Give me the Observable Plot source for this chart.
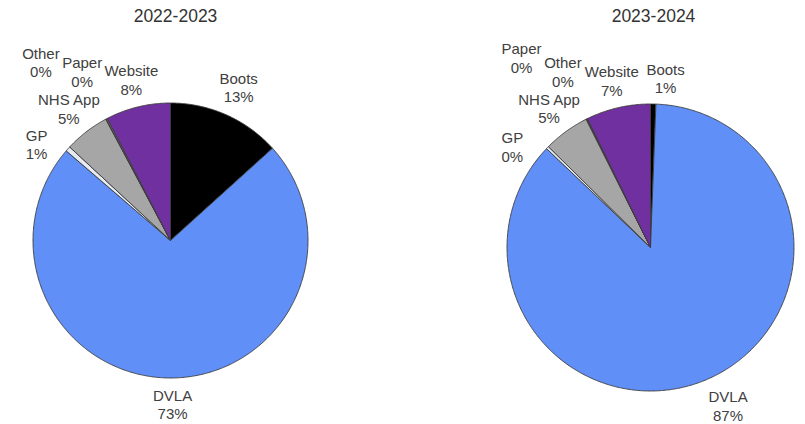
<!DOCTYPE html>
<html>
<head>
<meta charset="utf-8">
<script src="https://cdn.jsdelivr.net/npm/d3@7"></script>
<script src="https://cdn.jsdelivr.net/npm/@observablehq/plot@0.6"></script>
<style>
  html, body { margin: 0; padding: 0; background: #ffffff; }
  #chart { width: 805px; height: 424px; }
</style>
</head>
<body>
<div id="chart"></div>
<script>
// ---- data ----
const categories = ["Boots", "DVLA", "GP", "NHS App", "Other", "Paper", "Website"];
const years = ["2022-2023", "2023-2024"];
const share2022 = [13.3, 73.0, 0.6, 5.3, 0.05, 0.15, 7.6];
const share2023 = [0.6, 86.5, 0.3, 5.2, 0.1, 0.05, 7.25];
const sliceColors = ["#000000", "#5f8ff7", "#e6eaf2", "#a6a6a6", "#595959", "#808080", "#7030a0"];

// ---- layout (pixel space) ----
const W = 805, H = 424;
const FONT = "'Liberation Sans', Arial, sans-serif";
const LABEL_SIZE = 15, LH = 18.5, HH = 8, GAP = 8.5, MAX_TURN = 8;
const pies = [
  { year: years[0], values: share2022, cx: 170, cy: 240, r: 137.5, tx: 175, ty: 16 },
  { year: years[1], values: share2023, cx: 650, cy: 247, r: 143.5, tx: 653, ty: 16 }
];

const ctx = document.createElement("canvas").getContext("2d");
ctx.font = `${LABEL_SIZE}px ${FONT}`;
const measure = (s) => ctx.measureText(s).width;

const wedgeRows = [];
const labelRows = [];
const titleRows = [];

for (const P of pies) {
  const arcs = d3.pie().sort(null).value((d) => d)(P.values);
  // wedge polygons
  arcs.forEach((a, i) => {
    const key = P.year + "|" + categories[i];
    const span = a.endAngle - a.startAngle;
    const n = Math.max(2, Math.ceil(span / (Math.PI / 360)));
    wedgeRows.push({ key, cat: categories[i], x: P.cx, y: P.cy });
    for (let k = 0; k <= n; k++) {
      const t = a.startAngle + span * k / n;
      wedgeRows.push({ key, cat: categories[i], x: P.cx + P.r * Math.sin(t), y: P.cy - P.r * Math.cos(t) });
    }
    wedgeRows.push({ key, cat: categories[i], x: P.cx, y: P.cy });
  });

  // label placement (outside end, greedy collision avoidance on whole text blocks)
  const labs = arcs.map((a, i) => {
    const lines = [categories[i], Math.round(P.values[i]) + "%"];
    return { i, lines, widths: lines.map(measure), mid: (a.startAngle + a.endAngle) / 2, v: P.values[i] };
  });
  const lineBoxes = (lab, px, py) => lab.widths.map((w, j) => ({
    x0: px - w / 2, x1: px + w / 2,
    y0: py + (j - 0.5) * LH - HH, y1: py + (j - 0.5) * LH + HH
  }));
  const blockBox = (lab, px, py) => {
    const w = Math.max(...lab.widths);
    return { x0: px - w / 2 - 1, x1: px + w / 2 + 1, y0: py - LH / 2 - HH, y1: py + LH / 2 + HH };
  };
  const distToBox = (b) => {
    const dx = Math.max(b.x0 - P.cx, 0, P.cx - b.x1);
    const dy = Math.max(b.y0 - P.cy, 0, P.cy - b.y1);
    return Math.hypot(dx, dy);
  };
  const rMin = (lab, ang) => {
    for (let R = P.r; R < P.r + 150; R += 0.5) {
      const px = P.cx + R * Math.sin(ang), py = P.cy - R * Math.cos(ang);
      if (lineBoxes(lab, px, py).every((b) => distToBox(b) >= P.r + GAP)) return R;
    }
    return P.r + 150;
  };
  const overlaps = (a, b) => a.x0 < b.x1 && b.x0 < a.x1 && a.y0 < b.y1 && b.y0 < a.y1;
  const placed = [];
  const order = labs.slice().sort((a, b) => (b.v - a.v) || (a.i - b.i));
  const angSteps = [0];
  for (let d = 2; d <= MAX_TURN; d += 2) angSteps.push(-d, d);
  for (const lab of order) {
    let done = false;
    for (let extra = 0; extra <= 150 && !done; extra += 3) {
      for (const da of angSteps) {
        const ang = lab.mid + da * Math.PI / 180;
        const R = rMin(lab, ang) + extra;
        const px = P.cx + R * Math.sin(ang), py = P.cy - R * Math.cos(ang);
        const bb = blockBox(lab, px, py);
        if (bb.x0 < 0 || bb.x1 > W || bb.y0 < 28 || bb.y1 > H) continue;
        if (placed.some((q) => overlaps(bb, q))) continue;
        placed.push(bb);
        labelRows.push({ x: px, y: py, text: lab.lines.join("\n") });
        done = true;
        break;
      }
    }
  }

  titleRows.push({ x: P.tx, y: P.ty, text: P.year });
}

const chart = Plot.plot({
  width: W,
  height: H,
  margin: 0,
  x: { domain: [0, W], axis: null },
  y: { domain: [0, H], reverse: true, axis: null },
  color: { domain: categories, range: sliceColors },
  style: { fontFamily: FONT, background: "#ffffff" },
  marks: [
    Plot.line(wedgeRows, {
      x: "x", y: "y", z: "key", fill: "cat",
      stroke: "#3c3c3c", strokeWidth: 0.9, strokeLinejoin: "round", curve: "linear"
    }),
    Plot.text(labelRows, {
      x: "x", y: "y", text: "text",
      fontSize: LABEL_SIZE, lineHeight: LH / LABEL_SIZE, fill: "#404040"
    }),
    Plot.text(titleRows, {
      x: "x", y: "y", text: "text", fontSize: 17.5, fill: "#333333"
    })
  ]
});
document.getElementById("chart").appendChild(chart);
</script>
</body>
</html>
